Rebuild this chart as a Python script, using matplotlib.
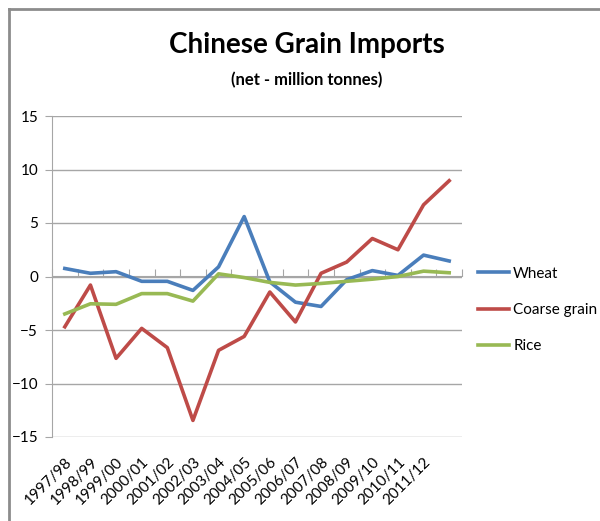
import matplotlib
matplotlib.use("Agg")
import matplotlib.pyplot as plt
from matplotlib.lines import Line2D
import numpy as np

# seasons (last category has no label in the original)
seasons = ["1997/98", "1998/99", "1999/00", "2000/01", "2001/02", "2002/03",
           "2003/04", "2004/05", "2005/06", "2006/07", "2007/08", "2008/09",
           "2009/10", "2010/11", "2011/12", ""]

wheat = [0.75, 0.3, 0.45, -0.45, -0.45, -1.3, 0.9, 5.6, -0.5, -2.4,
         -2.8, -0.3, 0.55, 0.1, 2.0, 1.45]
coarse = [-4.7, -0.8, -7.65, -4.85, -6.65, -13.45, -6.9, -5.6, -1.45, -4.25,
          0.3, 1.35, 3.55, 2.5, 6.7, 8.95]
rice = [-3.5, -2.55, -2.6, -1.6, -1.6, -2.3, 0.25, -0.1, -0.55, -0.8,
        -0.65, -0.45, -0.25, 0.0, 0.5, 0.35]

plt.rcParams['font.family'] = ['Lato', 'DejaVu Sans']

fig = plt.figure(figsize=(6.0, 5.21), dpi=100)
ax = fig.add_axes([52/600, 1-437/521, 410/600, 321/521])

x = np.arange(len(seasons))
ax.plot(x, wheat, color="#4a7ebb", lw=2.6, label="Wheat")
ax.plot(x, coarse, color="#be4b48", lw=2.6, label="Coarse grain")
ax.plot(x, rice, color="#98b954", lw=2.6, label="Rice")

ax.set_xlim(-0.5, len(seasons) - 0.5)
ax.set_ylim(-15, 15)
ax.set_yticks([-15, -10, -5, 0, 5, 10, 15])
ax.yaxis.grid(True, color="#a6a6a6", lw=1)
ax.set_axisbelow(True)
ax.tick_params(axis="y", length=5, color="#a6a6a6", labelsize=11, pad=5)

for s in ["top", "right", "bottom"]:
    ax.spines[s].set_visible(False)
ax.spines["left"].set_color("#a6a6a6")

# category labels along the bottom
ax.set_xticks(x)
ax.set_xticklabels(seasons, rotation=45, ha="right", rotation_mode="anchor",
                   fontsize=11)
ax.tick_params(axis="x", length=0, pad=13)

# category axis crossing at zero with tick marks between categories
sec = ax.secondary_xaxis(0.5)
sec.set_xticks(np.arange(len(seasons) + 1) - 0.5)
sec.set_xticklabels([])
sec.tick_params(length=5, color="#a6a6a6", direction="out")
for sp in sec.spines.values():
    sp.set_color("#a6a6a6")

fig.text(307/600, 1-45/521, "Chinese Grain Imports", ha="center", va="center",
         fontsize=20, fontweight="bold")
fig.text(307/600, 1-80/521, "(net - million tonnes)", ha="center", va="center",
         fontsize=12, fontweight="bold")

ax.legend(loc="center left", bbox_to_anchor=(478/600, 1-310/521),
          bbox_transform=fig.transFigure, frameon=False, fontsize=11,
          handlelength=2.0, handletextpad=0.3, labelspacing=1.45,
          borderpad=0, borderaxespad=0)

# chart border
fig.add_artist(Line2D([9/600, 9/600], [0, 1-9/521], color="#8c8c8c", lw=2))
fig.add_artist(Line2D([9/600, 1], [1-9/521, 1-9/521], color="#8c8c8c", lw=2))

fig.savefig("out.png", dpi=100)
